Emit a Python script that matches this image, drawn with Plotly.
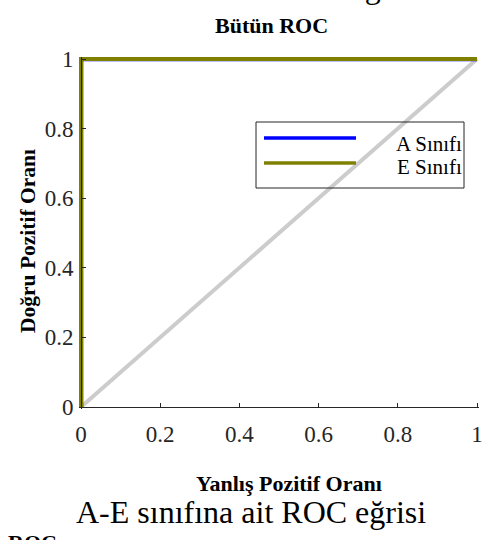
import plotly.graph_objects as go

# ---- data ----
fpr_a = [0, 0, 1]
tpr_a = [0, 1, 1]
fpr_e = [0, 0, 1]
tpr_e = [0, 1, 1]
diag_x = [0, 1]
diag_y = [0, 1]
series_names = ["A Sınıfı", "E Sınıfı"]
tick_vals = [0, 0.2, 0.4, 0.6, 0.8, 1]
tick_text = ["0", "0.2", "0.4", "0.6", "0.8", "1"]

W, H = 494, 540
L, R, T, B = 79, 15, 57, 131
PW, PH = W - L - R, H - T - B


def px(X):
    return (X - L) / PW


def py(Y):
    return (H - B - Y) / PH


SERIF = "Liberation Serif, Times New Roman, serif"
OLIVE = "#808000"
BLUE = "#0000FF"
GRAY = "#CCCCCC"
TICKC = "#262626"

fig = go.Figure()
fig.add_trace(go.Scatter(x=diag_x, y=diag_y, mode="lines",
                         line=dict(color=GRAY, width=4), showlegend=False, hoverinfo="skip"))
fig.add_trace(go.Scatter(x=fpr_a, y=tpr_a, mode="lines", name=series_names[0],
                         line=dict(color=BLUE, width=4.6), showlegend=False))
fig.add_trace(go.Scatter(x=fpr_e, y=tpr_e, mode="lines", name=series_names[1],
                         line=dict(color=OLIVE, width=4), showlegend=False))

pad_x = 2 / 396
pad_y = 2 / 348
fig.update_layout(
    width=W, height=H,
    margin=dict(l=L, r=R, t=T, b=B, pad=0),
    paper_bgcolor="white", plot_bgcolor="white",
    font=dict(family=SERIF, color=TICKC),
    xaxis=dict(range=[-pad_x, 1 + pad_x], tickvals=tick_vals, ticktext=tick_text,
               showgrid=False, zeroline=False, showline=True, linecolor=TICKC, linewidth=1,
               ticks="inside", ticklen=4, tickcolor=TICKC,
               anchor="free", position=2 / PH, ticklabelstandoff=6,
               tickfont=dict(family=SERIF, size=23, color=TICKC)),
    yaxis=dict(range=[-pad_y, 1 + pad_y], tickvals=tick_vals, ticktext=tick_text,
               showgrid=False, zeroline=False, showline=True, linecolor=TICKC, linewidth=1,
               ticks="inside", ticklen=4, tickcolor=TICKC,
               anchor="free", position=2 / PW, ticklabelstandoff=3,
               tickfont=dict(family=SERIF, size=23, color=TICKC)),
)

ann = []
# chart title
ann.append(dict(text="<b>Bütün ROC</b>", x=px(271), y=py(25), xref="paper", yref="paper",
                showarrow=False, font=dict(family=SERIF, size=22, color="black"),
                xanchor="center", yanchor="middle"))
# axis titles
ann.append(dict(text="<b>Yanlış Pozitif Oranı</b>", x=px(289), y=py(483), xref="paper", yref="paper",
                showarrow=False, font=dict(family=SERIF, size=22, color="black"),
                xanchor="center", yanchor="middle"))
ann.append(dict(text="<b>Doğru Pozitif Oranı</b>", x=px(28), y=py(241), xref="paper", yref="paper",
                showarrow=False, textangle=-90, font=dict(family=SERIF, size=21.5, color="black"),
                xanchor="center", yanchor="middle"))
# document captions
ann.append(dict(text="A-E sınıfına ait ROC eğrisi", x=px(251), y=py(512), xref="paper", yref="paper",
                showarrow=False, font=dict(family=SERIF, size=32, color="black"),
                xanchor="center", yanchor="middle"))
ann.append(dict(text="A-D sınıfına ait ROC eğrisi", x=px(245), y=py(-13), xref="paper", yref="paper",
                showarrow=False, font=dict(family=SERIF, size=32, color="black"),
                xanchor="center", yanchor="middle"))
ann.append(dict(text="<b>ROC</b>", x=px(6), y=py(528), xref="paper", yref="paper",
                showarrow=False, font=dict(family=SERIF, size=22, color="black"),
                xanchor="left", yanchor="top"))
# legend text
ann.append(dict(text=series_names[0], x=px(463), y=py(144), xref="paper", yref="paper",
                showarrow=False, font=dict(family=SERIF, size=21, color="black"),
                xanchor="right", yanchor="middle", borderpad=0))
ann.append(dict(text=series_names[1], x=px(463), y=py(167), xref="paper", yref="paper",
                showarrow=False, font=dict(family=SERIF, size=21, color="black"),
                xanchor="right", yanchor="middle", borderpad=0))
fig.update_layout(annotations=ann)

shapes = [
    dict(type="rect", xref="paper", yref="paper", x0=px(256), x1=px(464), y0=py(188), y1=py(122),
         line=dict(color=TICKC, width=1), fillcolor="rgba(0,0,0,0)"),
    dict(type="line", xref="paper", yref="paper", x0=px(264), x1=px(356), y0=py(138), y1=py(138),
         line=dict(color=BLUE, width=3.5)),
    dict(type="line", xref="paper", yref="paper", x0=px(264), x1=px(356), y0=py(163), y1=py(163),
         line=dict(color=OLIVE, width=3.5)),
]
fig.update_layout(shapes=shapes)

fig.write_html("out.html")
